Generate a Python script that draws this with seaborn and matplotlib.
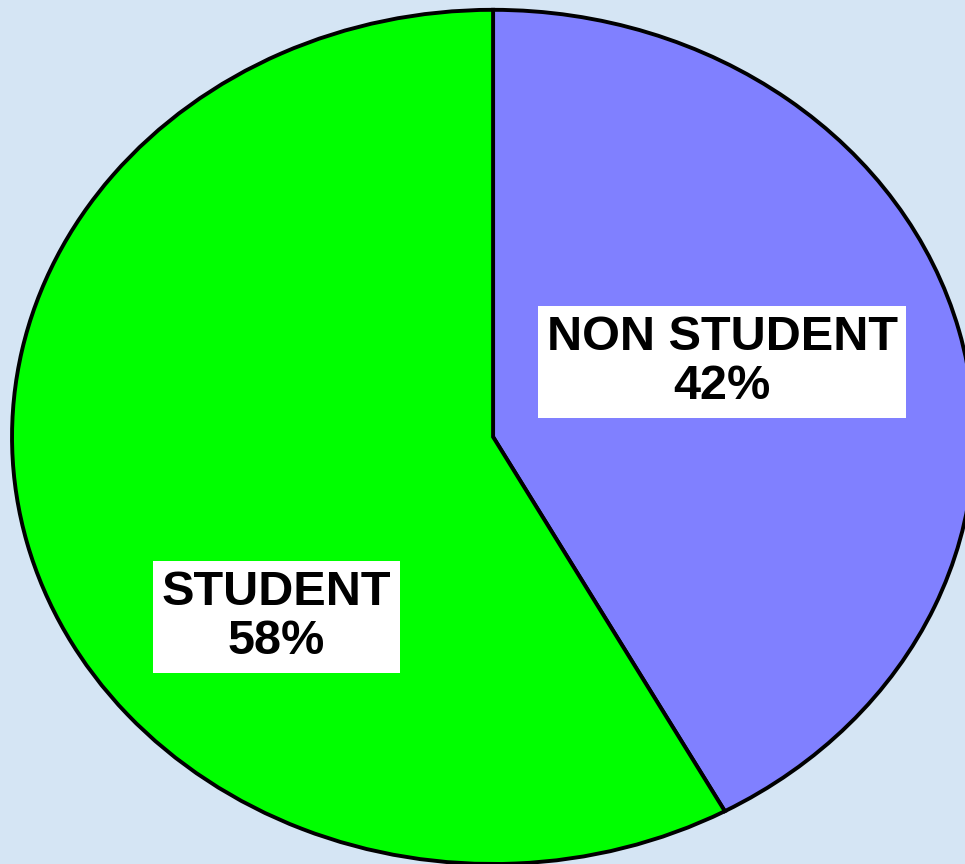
import matplotlib
matplotlib.use("Agg")
import matplotlib.pyplot as plt
import seaborn as sns

categories = ["NON STUDENT", "STUDENT"]
shares = [42, 58]
slice_colors = ["#8080ff", "#00ff00"]

sns.set_style("white")
plt.rcParams["font.family"] = ["Liberation Sans", "DejaVu Sans"]

fig = plt.figure(figsize=(9.65, 8.64), dpi=100)
fig.patch.set_facecolor("#d5e5f4")
ax = fig.add_axes([0, 0, 1, 1])
ax.set_facecolor("#d5e5f4")

wedges, _ = ax.pie(
    shares,
    colors=slice_colors,
    startangle=90,
    counterclock=False,
    wedgeprops=dict(edgecolor="black", linewidth=2.8),
)

# stretch the pie to an ellipse like the original
ax.set_aspect("auto")
ax.set_xlim(-1.025, 0.981)
ax.set_ylim(-1.0, 1.023)
ax.axis("off")

label_pos = [(0.476, 0.176), (-0.451, -0.422)]
for name, val, (x, y) in zip(categories, shares, label_pos):
    ax.text(
        x, y, f"{name}\n{val}%",
        ha="center", va="center", fontsize=35, fontweight="bold",
        color="black", linespacing=1.12,
        bbox=dict(boxstyle="square,pad=0.18", facecolor="white", edgecolor="none"),
    )

fig.savefig("out.png", dpi=100, facecolor=fig.get_facecolor())
